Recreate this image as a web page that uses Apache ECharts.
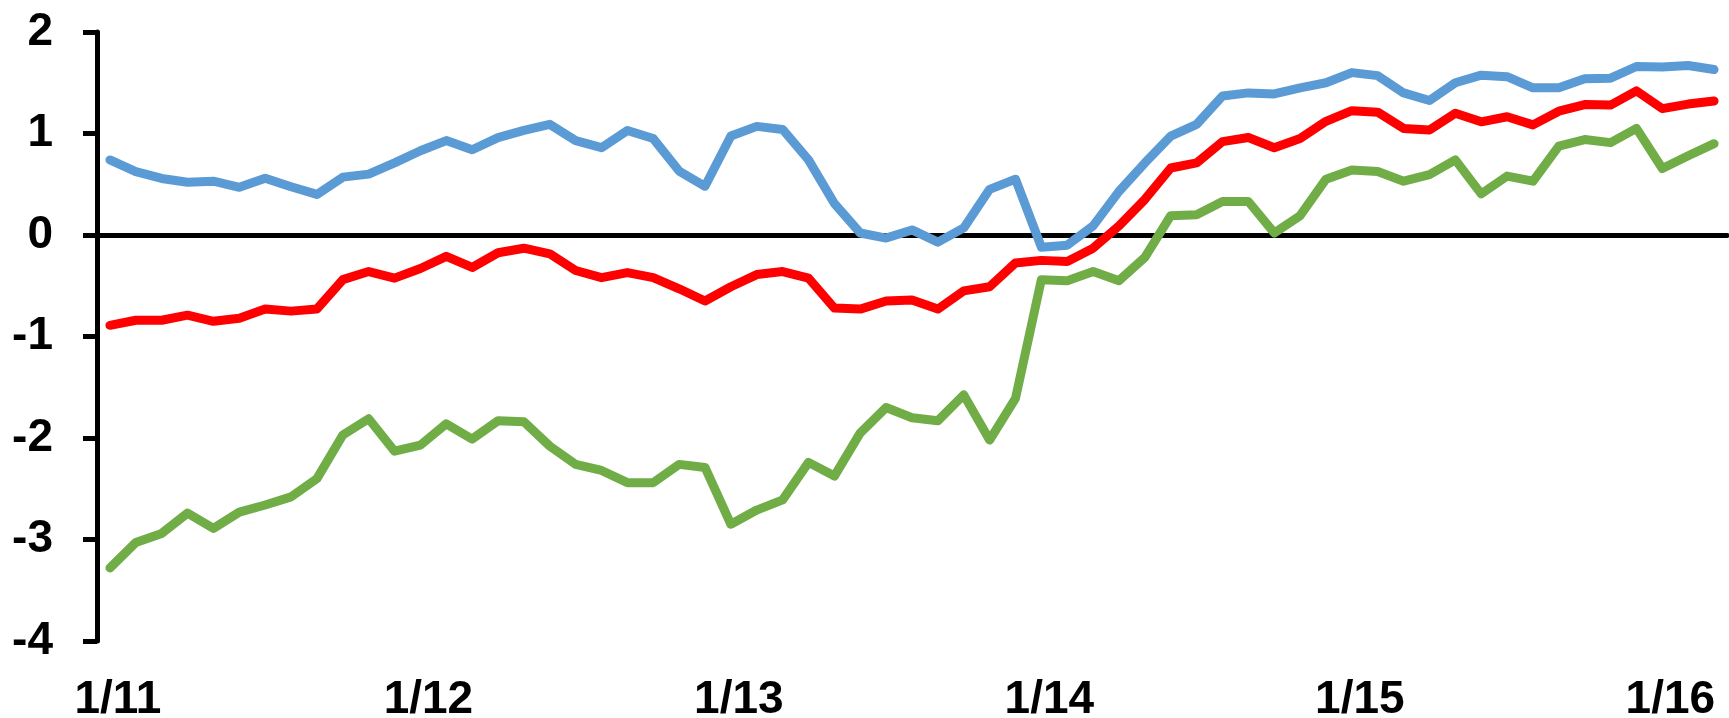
<!DOCTYPE html>
<html>
<head>
<meta charset="utf-8">
<script src="https://cdn.jsdelivr.net/npm/echarts@6/dist/echarts.min.js"></script>
<style>
  html, body { margin: 0; padding: 0; background: #fff; }
  #chart { width: 1729px; height: 718px; }
</style>
</head>
<body>
<div id="chart"></div>
<script>
// monthly points, Jan 2011 .. Mar 2016
const years = ['11', '12', '13', '14', '15', '16']
const months = []
years.forEach(y => {
  for (let m = 1; m <= 12; m++) {
    if (y === '16' && m > 3) break
    months.push(m + '/' + y)
  }
})

const blueSeries = [
  0.74, 0.625, 0.557, 0.52, 0.53, 0.47, 0.56, 0.475, 0.40, 0.57, 0.60, 0.71,
  0.83, 0.93, 0.84, 0.96, 1.03, 1.09, 0.93, 0.86, 1.03, 0.95, 0.63, 0.48,
  0.975, 1.07, 1.04, 0.74, 0.31, 0.02, -0.03, 0.05, -0.07, 0.07, 0.45, 0.55,
  -0.12, -0.10, 0.09, 0.43, 0.71, 0.975, 1.09, 1.37, 1.40, 1.39, 1.45, 1.50,
  1.60, 1.57, 1.40, 1.325, 1.50, 1.575, 1.56, 1.45, 1.45, 1.54, 1.545, 1.66,
  1.655, 1.67, 1.63
]
const redSeries = [
  -0.89, -0.84, -0.84, -0.79, -0.85, -0.82, -0.73, -0.75, -0.73, -0.44, -0.36, -0.425,
  -0.33, -0.21, -0.32, -0.175, -0.13, -0.185, -0.35, -0.42, -0.37, -0.42, -0.53, -0.65,
  -0.51, -0.39, -0.36, -0.425, -0.72, -0.73, -0.65, -0.64, -0.73, -0.55, -0.51, -0.275,
  -0.25, -0.26, -0.13, 0.09, 0.35, 0.66, 0.71, 0.92, 0.96, 0.86, 0.95, 1.12,
  1.225, 1.21, 1.05, 1.035, 1.20, 1.115, 1.165, 1.085, 1.22, 1.285, 1.28, 1.42,
  1.245, 1.29, 1.32
]
const greenSeries = [
  -3.28, -3.03, -2.94, -2.74, -2.89, -2.73, -2.66, -2.58, -2.40, -1.97, -1.81, -2.13,
  -2.07, -1.86, -2.01, -1.83, -1.84, -2.08, -2.26, -2.32, -2.44, -2.44, -2.26, -2.29,
  -2.85, -2.71, -2.61, -2.24, -2.375, -1.95, -1.70, -1.80, -1.83, -1.575, -2.02, -1.61,
  -0.44, -0.45, -0.36, -0.45, -0.22, 0.19, 0.20, 0.33, 0.33, 0.02, 0.19, 0.55,
  0.64, 0.625, 0.53, 0.595, 0.74, 0.405, 0.58, 0.53, 0.875, 0.94, 0.91, 1.05,
  0.655, 0.78, 0.90
]

const font = 'Liberation Sans, Arial, sans-serif'
const labelStyle = { fontSize: 46, fontWeight: 'bold', color: '#000', fontFamily: font }

const chart = echarts.init(document.getElementById('chart'))
chart.setOption({
  animation: false,
  backgroundColor: '#fff',
  grid: { left: 97, right: 2, top: 32, bottom: 77, outerBoundsMode: 'none' },
  xAxis: [
    {
      // zero line
      type: 'category',
      data: months,
      boundaryGap: true,
      axisLine: { onZero: true, lineStyle: { color: '#000', width: 5 } },
      axisTick: { show: false },
      axisLabel: { show: false },
      splitLine: { show: false },
    },
    {
      // year labels at the bottom
      type: 'category',
      data: months,
      position: 'bottom',
      boundaryGap: true,
      axisLine: { show: false, onZero: false },
      axisTick: { show: false },
      axisLabel: { ...labelStyle, interval: 11, margin: 36, padding: [0, 0, 0, 16] },
      splitLine: { show: false },
    },
  ],
  yAxis: {
    type: 'value',
    min: -4,
    max: 2,
    interval: 1,
    axisLine: { show: true, onZero: false, lineStyle: { color: '#000', width: 5 } },
    axisTick: { show: true, inside: false, length: 14, lineStyle: { color: '#000', width: 5 } },
    axisLabel: { ...labelStyle, margin: 44 },
    splitLine: { show: false },
  },
  series: [
    { name: 'blue', data: blueSeries, color: '#5B9BD5' },
    { name: 'red', data: redSeries, color: '#FF0000' },
    { name: 'green', data: greenSeries, color: '#70AD47' },
  ].map(s => ({
    name: s.name,
    type: 'line',
    data: s.data,
    symbol: 'none',
    lineStyle: { color: s.color, width: 9, cap: 'round', join: 'round' },
    itemStyle: { color: s.color },
  })),
})
</script>
</body>
</html>
